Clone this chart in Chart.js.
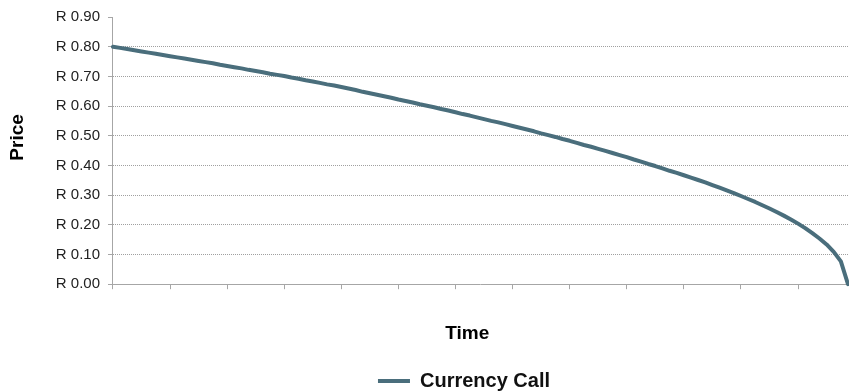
<!DOCTYPE html>
<html>
<head>
<meta charset="utf-8">
<script src="https://cdn.jsdelivr.net/npm/chart.js@4.4.1/dist/chart.umd.min.js"></script>
<style>
  html, body { margin: 0; padding: 0; background: #ffffff; }
  #wrap { position: relative; width: 849px; height: 391px; }
</style>
</head>
<body>
<div id="wrap"><canvas id="c" width="849" height="391"></canvas></div>
<script>
// Option price (Rand), one value per time step
const priceValues = [
  0.800, 0.796, 0.792, 0.788, 0.784, 0.780, 0.776, 0.772, 0.768, 0.764,
  0.760, 0.756, 0.752, 0.748, 0.744, 0.739, 0.735, 0.731, 0.727, 0.722,
  0.718, 0.714, 0.709, 0.705, 0.701, 0.696, 0.692, 0.687, 0.683, 0.678,
  0.673, 0.669, 0.664, 0.659, 0.654, 0.648, 0.643, 0.638, 0.633, 0.628,
  0.622, 0.617, 0.612, 0.606, 0.601, 0.596, 0.590, 0.585, 0.579, 0.573,
  0.568, 0.562, 0.556, 0.550, 0.545, 0.539, 0.533, 0.527, 0.521, 0.515,
  0.508, 0.502, 0.496, 0.489, 0.483, 0.476, 0.469, 0.463, 0.456, 0.449,
  0.442, 0.435, 0.428, 0.420, 0.413, 0.405, 0.398, 0.390, 0.382, 0.375,
  0.367, 0.359, 0.351, 0.343, 0.334, 0.325, 0.316, 0.307, 0.297, 0.287,
  0.277, 0.266, 0.255, 0.243, 0.231, 0.218, 0.204, 0.189, 0.172, 0.154,
  0.134, 0.109, 0.077, 0.000
];
// Time steps (unlabelled on the axis)
const timeSteps = priceValues.map((_, i) => i + 1);
const yTickLabels = ['R 0.00','R 0.10','R 0.20','R 0.30','R 0.40','R 0.50','R 0.60','R 0.70','R 0.80','R 0.90'];
const seriesName = 'Currency Call';
const xTitle = 'Time';
const yTitle = 'Price';

const lineColor = '#4a6e7c';
const axisColor = '#a6a6a6';
const FONT = "'Liberation Sans', Arial, sans-serif";

const shiftLegend = {
  id: 'shiftLegend',
  afterLayout(chart) {
    const l = chart.legend;
    if (l) { l.left += 40; l.right += 40; l.top += 10; l.bottom += 10; }
  }
};

new Chart(document.getElementById('c'), {
  type: 'line',
  data: {
    labels: timeSteps,
    datasets: [{
      label: seriesName,
      data: priceValues,
      borderColor: lineColor,
      backgroundColor: lineColor,
      borderWidth: 4,
      pointRadius: 0,
      pointHoverRadius: 0,
      tension: 0,
      fill: false,
      borderCapStyle: 'round',
      borderJoinStyle: 'round',
      clip: false
    }]
  },
  options: {
    responsive: false,
    animation: false,
    devicePixelRatio: 1,
    layout: { padding: { top: 16, right: 1, bottom: 0, left: 0 } },
    plugins: {
      tooltip: { enabled: false },
      legend: {
        display: true,
        position: 'bottom',
        labels: {
          usePointStyle: true,
          pointStyle: 'line',
          pointStyleWidth: 32,
          boxHeight: 4,
          padding: 1,
          color: '#111',
          font: { family: FONT, size: 20, weight: 'bold' }
        }
      }
    },
    scales: {
      x: {
        type: 'category',
        offset: false,
        border: { display: true, color: axisColor, width: 1 },
        grid: {
          display: true,
          drawOnChartArea: false,
          drawTicks: true,
          tickLength: 5,
          tickWidth: 1,
          tickColor: (ctx) => (ctx.index % 8 === 0 ? axisColor : 'rgba(0,0,0,0)')
        },
        ticks: { display: false, autoSkip: false },
        title: {
          display: true,
          text: xTitle + '     ',
          color: '#000',
          font: { family: FONT, size: 19, weight: 'bold' },
          padding: { top: 33, bottom: 15 }
        }
      },
      y: {
        min: 0,
        max: 0.9,
        border: { display: true, color: axisColor, width: 1, dash: [1, 1] },
        grid: {
          display: true,
          drawOnChartArea: true,
          drawTicks: true,
          tickLength: 5,
          tickWidth: 1,
          tickColor: axisColor,
          color: (ctx) => ((ctx.index === 0 || ctx.index === 9) ? 'rgba(0,0,0,0)' : '#a0a0a0'),
          lineWidth: 1
        },
        ticks: {
          stepSize: 0.1,
          padding: 8,
          color: '#222',
          font: { family: FONT, size: 15 },
          callback: (v, i) => yTickLabels[i]
        },
        title: {
          display: true,
          text: '     ' + yTitle,
          color: '#000',
          font: { family: FONT, size: 19, weight: 'bold' },
          padding: { top: 6, bottom: 19 }
        }
      }
    }
  },
  plugins: [shiftLegend]
});
</script>
</body>
</html>
